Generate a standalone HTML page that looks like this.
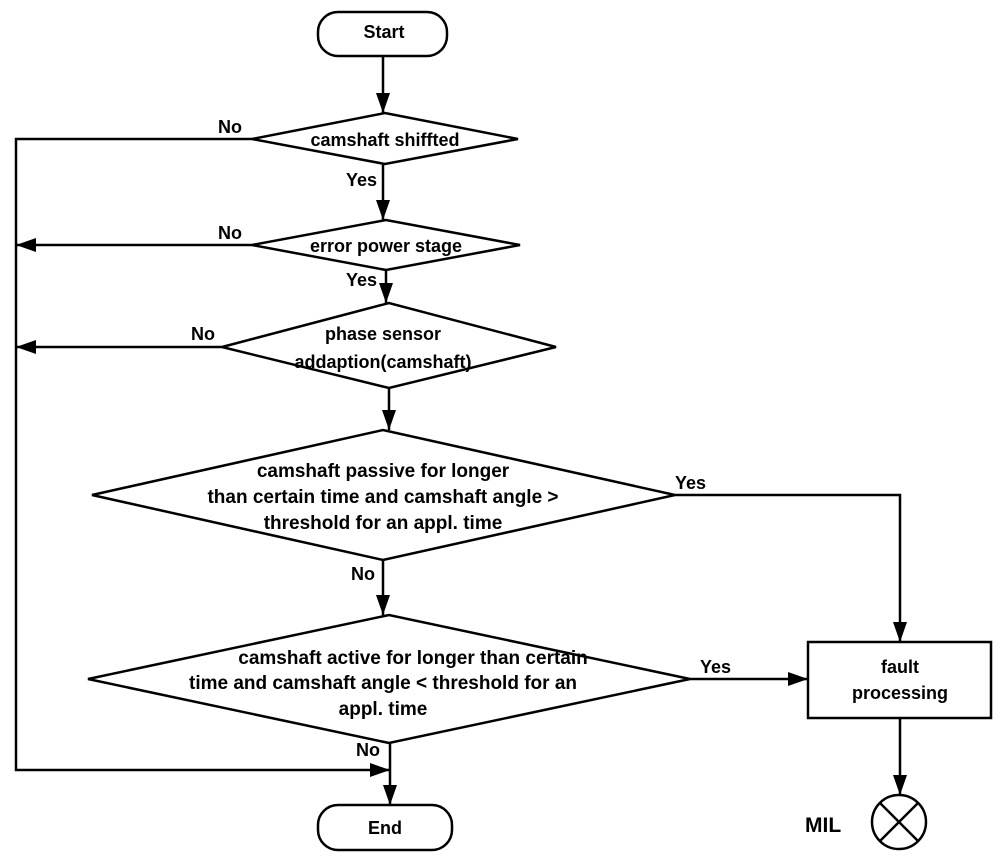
<!DOCTYPE html>
<html><head><meta charset="utf-8"><style>
body{margin:0;background:#fff}
svg{display:block}
text{font-family:"Liberation Sans",Arial,sans-serif;font-weight:bold;font-size:18px;fill:#000}
.n{font-family:"Liberation Sans Narrow","Liberation Sans",Arial,sans-serif;font-size:19px}
</style></head><body>
<svg width="1008" height="868" viewBox="0 0 1008 868" xmlns="http://www.w3.org/2000/svg">
<defs>
<marker id="b" markerWidth="20" markerHeight="20" refX="20" refY="10" orient="auto" markerUnits="userSpaceOnUse"><path d="M0,3 L20,10 L0,17 z" fill="#000"/></marker></defs>
<g stroke="#000" stroke-width="2.5" fill="none">
<rect x="318" y="12" width="129" height="44" rx="20"/>
<rect x="318" y="805" width="134" height="45" rx="20"/>
<polygon points="252,139 385,113 518,139 385,164"/>
<polygon points="252,245 386,220 520,245 386,270"/>
<polygon points="222,347 389,303 556,347 389,388"/>
<polygon points="92,495 383,430 675,495 383,560"/>
<polygon points="88,679 389,615 690,679 389,743"/>
<rect x="808" y="642" width="183" height="76"/>
<circle cx="899" cy="822" r="27"/>
<line x1="880" y1="803" x2="918" y2="841"/><line x1="918" y1="803" x2="880" y2="841"/>
<line x1="383" y1="56" x2="383" y2="113" marker-end="url(#b)"/>
<polyline points="252,139 16,139 16,770 390,770" marker-end="url(#b)"/>
<line x1="383" y1="164" x2="383" y2="220" marker-end="url(#b)"/>
<line x1="252" y1="245" x2="16" y2="245" marker-end="url(#b)"/>
<line x1="386" y1="270" x2="386" y2="303" marker-end="url(#b)"/>
<line x1="222" y1="347" x2="16" y2="347" marker-end="url(#b)"/>
<line x1="389" y1="388" x2="389" y2="430" marker-end="url(#b)"/>
<polyline points="675,495 900,495 900,642" marker-end="url(#b)"/>
<line x1="383" y1="560" x2="383" y2="615" marker-end="url(#b)"/>
<line x1="690" y1="679" x2="808" y2="679" marker-end="url(#b)"/>
<line x1="390" y1="743" x2="390" y2="805" marker-end="url(#b)"/>
<line x1="900" y1="718" x2="900" y2="795" marker-end="url(#b)"/>
</g>
<g text-anchor="middle">
<text x="384" y="38">Start</text>
<text x="385" y="834">End</text>
<text x="385" y="146">camshaft shiffted</text>
<text x="386" y="252">error power stage</text>
<text x="383" y="340">phase sensor</text>
<text x="383" y="368">addaption(camshaft)</text>
<text class="n" x="383" y="477">camshaft passive  for longer</text>
<text class="n" x="383" y="503">than certain time and camshaft angle &gt;</text>
<text class="n" x="383" y="529">threshold for an appl. time</text>
<text class="n" x="413" y="664">camshaft active for longer than certain</text>
<text class="n" x="383" y="689">time and camshaft angle &lt; threshold  for an</text>
<text class="n" x="383" y="715">appl. time</text>
<text x="900" y="673">fault</text>
<text x="900" y="699">processing</text>
</g>
<text x="218" y="133">No</text>
<text x="218" y="239">No</text>
<text x="191" y="340">No</text>
<text x="346" y="186">Yes</text>
<text x="346" y="286">Yes</text>
<text x="675" y="489">Yes</text>
<text x="351" y="580">No</text>
<text x="700" y="673">Yes</text>
<text x="356" y="756">No</text>
<text x="805" y="832" style="font-size:21px">MIL</text>
</svg>
</body></html>
